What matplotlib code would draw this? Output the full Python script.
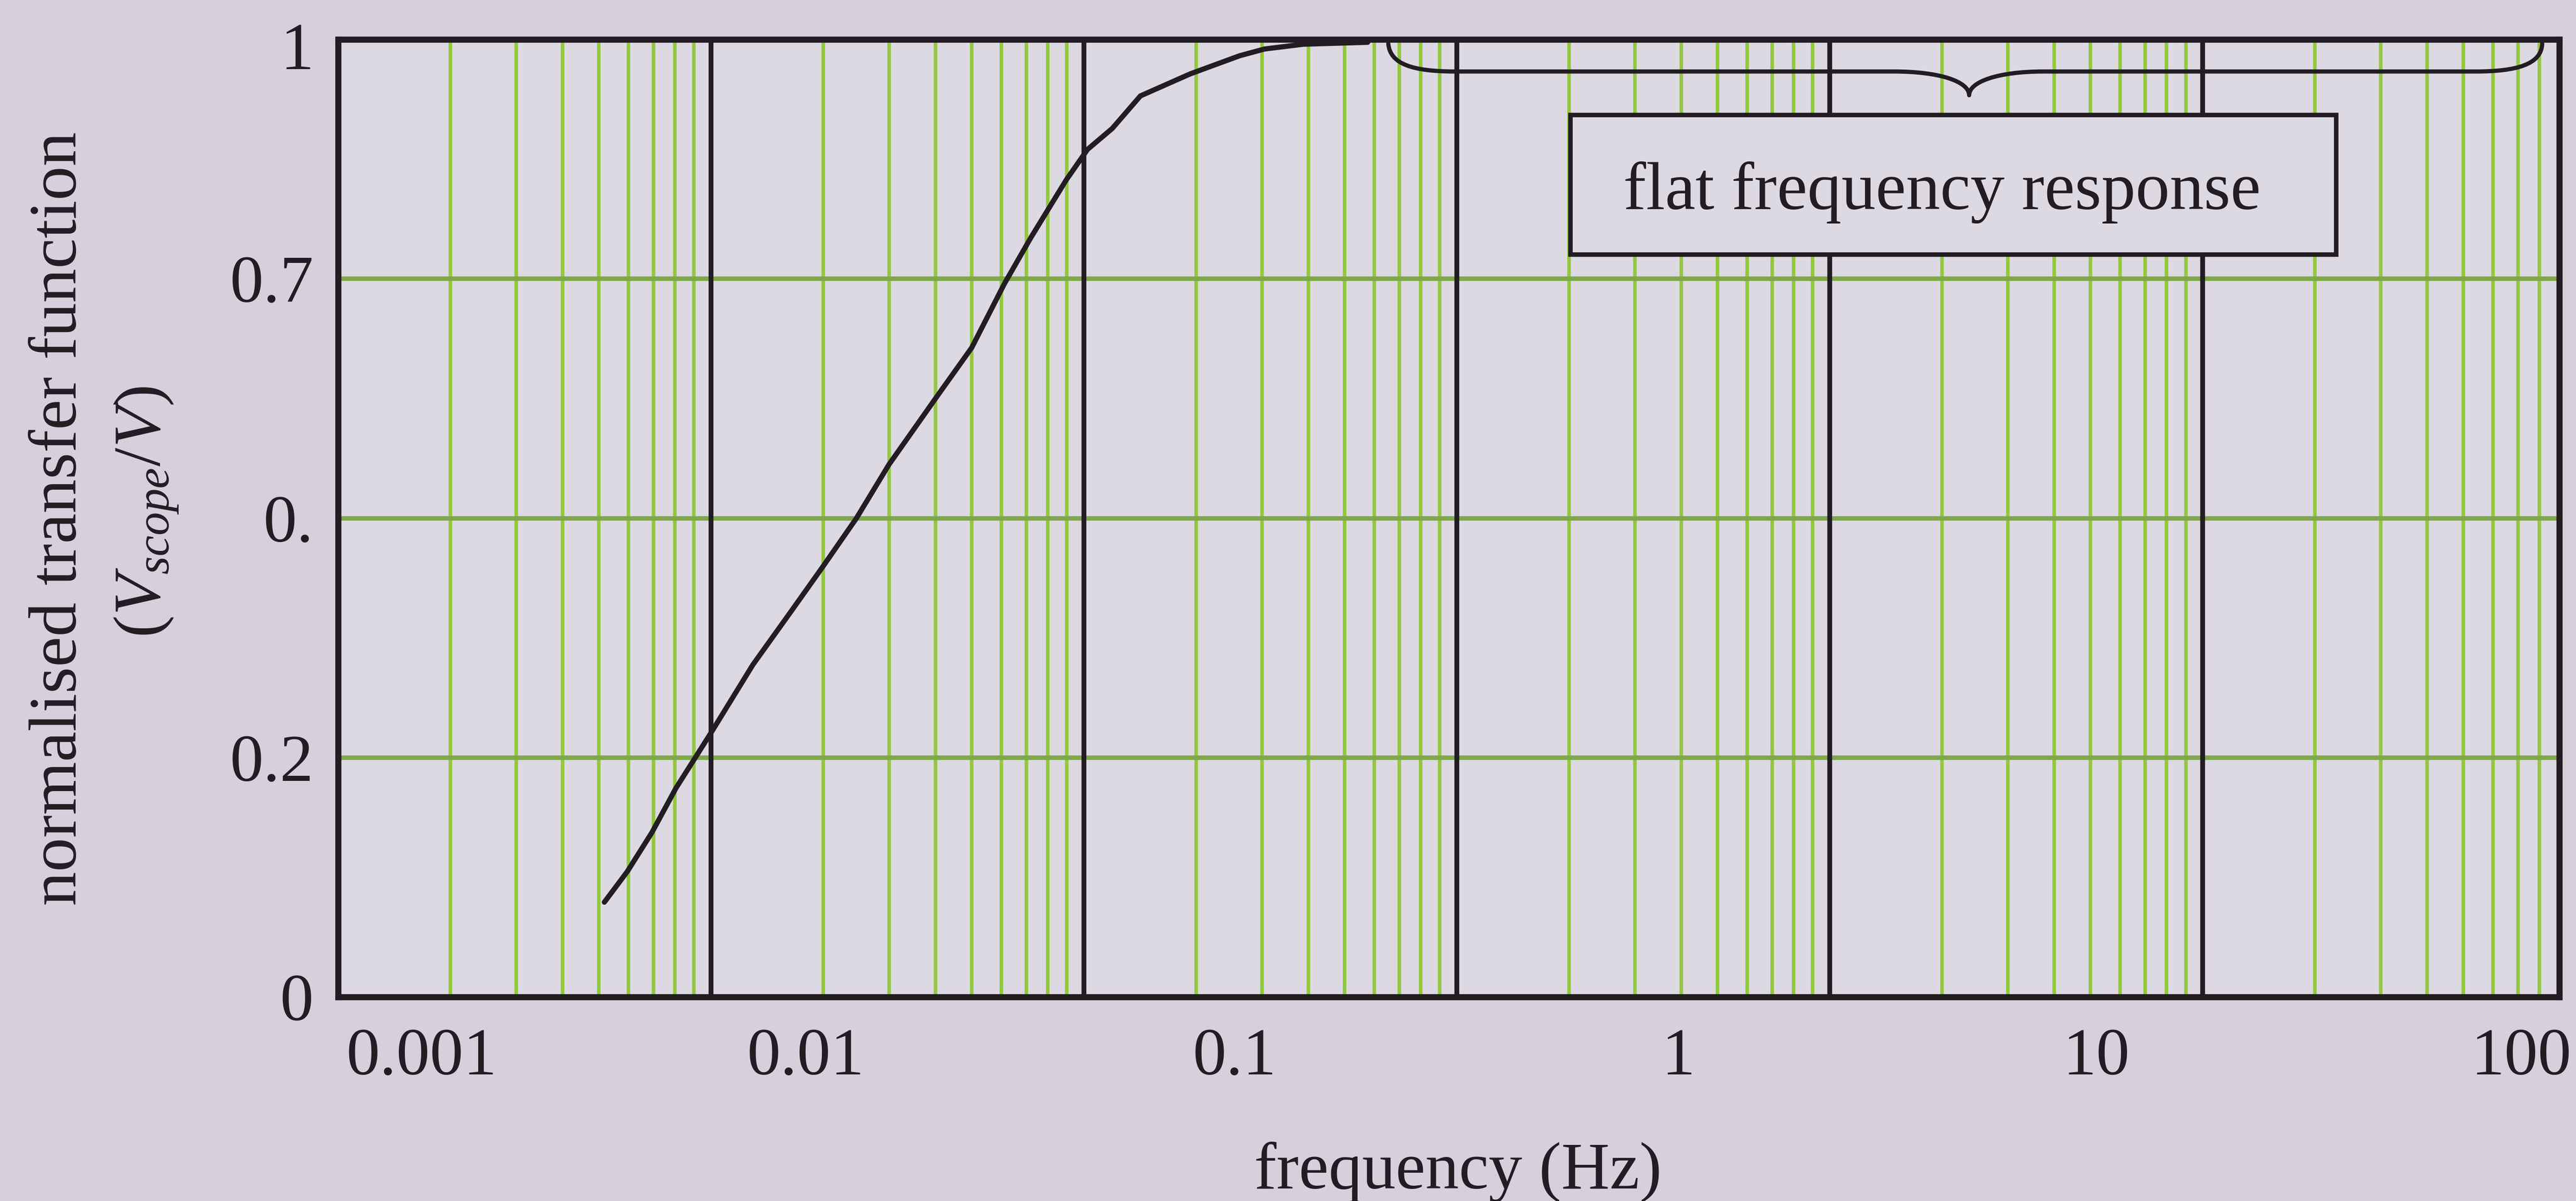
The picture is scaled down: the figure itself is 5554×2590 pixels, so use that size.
import numpy as np
import matplotlib
matplotlib.use("Agg")
import matplotlib.pyplot as plt
from matplotlib.path import Path
from matplotlib.patches import PathPatch, Rectangle
from matplotlib.ticker import NullLocator
import matplotlib.transforms as mtransforms

# ---------------- data ----------------
freq_hz = [0.00263, 0.00303, 0.00353, 0.00409, 0.00512, 0.00658, 0.00834,
           0.0102, 0.01247, 0.01524, 0.0204, 0.0254, 0.0311, 0.0366,
           0.0455, 0.0519, 0.0605, 0.0720, 0.0979, 0.133, 0.155, 0.197, 0.293]
transfer = [0.099, 0.131, 0.172, 0.218, 0.278, 0.347, 0.403,
            0.451, 0.500, 0.556, 0.626, 0.678, 0.745, 0.793,
            0.853, 0.885, 0.907, 0.941, 0.964, 0.983, 0.990, 0.995, 0.997]

x_tick_labels = ["0.001", "0.01", "0.1", "1", "10", "100"]
y_tick_values = [0, 0.25, 0.5, 0.75, 1.0]
y_tick_labels = ["0", "0.2", "0.", "0.7", "1"]
h_grid_values = [0.25, 0.5, 0.75]
annotation_text = "flat frequency response"
x_label = "frequency (Hz)"
y_label_line1 = "normalised transfer function"
y_label_line2 = r"$\mathrm{(}V_{scope}/V\mathrm{)}$"

# ---------------- layout / style ----------------
GRID_LOG0 = -3.294          # log10 of left edge (first grid decade line)
N_DECADES = 5.956           # visible span in decades
XTICK_LOG_POS = [-3.07, -2.04, -0.89, 0.30, 1.42, 2.56]  # where labels sit

FIG_BG = "#d6d0dc"
AX_BG = "#dcd9e3"
BLACK = "#231c22"
GREEN_V = "#93c83c"
GREEN_H = "#7fa84a"

plt.rcParams['font.family'] = ['Liberation Serif', 'DejaVu Serif']
plt.rcParams['mathtext.fontset'] = 'custom'
plt.rcParams['mathtext.rm'] = 'Liberation Serif'
plt.rcParams['mathtext.it'] = 'Liberation Serif:italic'
plt.rcParams['mathtext.bf'] = 'Liberation Serif:bold'

fig = plt.figure(figsize=(55.54, 25.90), dpi=100, facecolor=FIG_BG)
ax = fig.add_axes([0.13126, 0.16988, 0.86226, 0.7973])
ax.set_facecolor(AX_BG)
ax.set_xscale("log")
xmin = 10 ** GRID_LOG0
xmax = 10 ** (GRID_LOG0 + N_DECADES)
ax.set_xlim(xmin, xmax)
ax.set_ylim(0, 1)

# log-paper grid
black_x, green_x = [], []
for k in range(7):
    base = 10 ** (GRID_LOG0 + k)
    if 0 < k and base < xmax:
        black_x.append(base)
    for n in range(2, 10):
        if n * base < xmax:
            green_x.append(n * base)
ax.vlines(green_x, 0, 1, colors=GREEN_V, lw=5.5, zorder=1)
ax.hlines(h_grid_values, xmin, xmax, colors=GREEN_H, lw=7, zorder=1.5)
ax.vlines(black_x, 0, 1, colors=BLACK, lw=7.5, zorder=2)

# curve
ax.plot(freq_hz, transfer, color=BLACK, lw=8, zorder=5, clip_on=False,
        solid_joinstyle='round', solid_capstyle='round')

for s in ax.spines.values():
    s.set_color(BLACK)
    s.set_linewidth(9.5)
    s.set_zorder(6)

# ticks
ax.set_xticks([10 ** p for p in XTICK_LOG_POS], x_tick_labels)
ax.xaxis.set_minor_locator(NullLocator())
ax.set_yticks(y_tick_values, y_tick_labels)
ax.tick_params(axis='x', length=0, pad=120, labelsize=104, colors=BLACK)
ax.tick_params(axis='y', length=0, pad=38, labelsize=104, colors=BLACK)
for lbl in ax.get_xticklabels():
    lbl.set_va('baseline')
top_lbl = ax.get_yticklabels()[-1]
top_lbl.set_transform(top_lbl.get_transform() +
                      mtransforms.ScaledTranslation(0, -10 / 72, fig.dpi_scale_trans))

# annotation box
ax.add_patch(Rectangle((0.5548, 0.7753), 0.3447, 0.1458, transform=ax.transAxes,
                       facecolor=AX_BG, edgecolor=BLACK, lw=7, zorder=7))
ax.text(0.7221, 0.823, annotation_text, transform=ax.transAxes, ha='center',
        va='baseline', fontsize=106, color=BLACK, zorder=8)

# curly brace
verts = [(0.4728, 0.9957),
         (0.4735, 0.9740), (0.4840, 0.9665), (0.5029, 0.9665),
         (0.7005, 0.9665),
         (0.7210, 0.9665), (0.7343, 0.9560), (0.7343, 0.9417),
         (0.7343, 0.9560), (0.7475, 0.9665), (0.7678, 0.9665),
         (0.9622, 0.9665),
         (0.9810, 0.9665), (0.9920, 0.9740), (0.9923, 0.9957)]
codes = [Path.MOVETO,
         Path.CURVE4, Path.CURVE4, Path.CURVE4,
         Path.LINETO,
         Path.CURVE4, Path.CURVE4, Path.CURVE4,
         Path.CURVE4, Path.CURVE4, Path.CURVE4,
         Path.LINETO,
         Path.CURVE4, Path.CURVE4, Path.CURVE4]
ax.add_patch(PathPatch(Path(verts, codes), transform=ax.transAxes, fill=False,
                       edgecolor=BLACK, lw=6.5, zorder=8, capstyle='round',
                       joinstyle='round'))

# axis labels
fig.text(0.566, 0.0104, x_label, ha='center', va='baseline', fontsize=104, color=BLACK)
fig.text(0.0232, 0.568, y_label_line1, rotation=90, ha='center', va='center',
         fontsize=106, color=BLACK)
fig.text(0.0570, 0.5737, y_label_line2, rotation=90, ha='center', va='center',
         fontsize=104, color=BLACK)

fig.savefig("out.png", dpi=100, facecolor=FIG_BG)
